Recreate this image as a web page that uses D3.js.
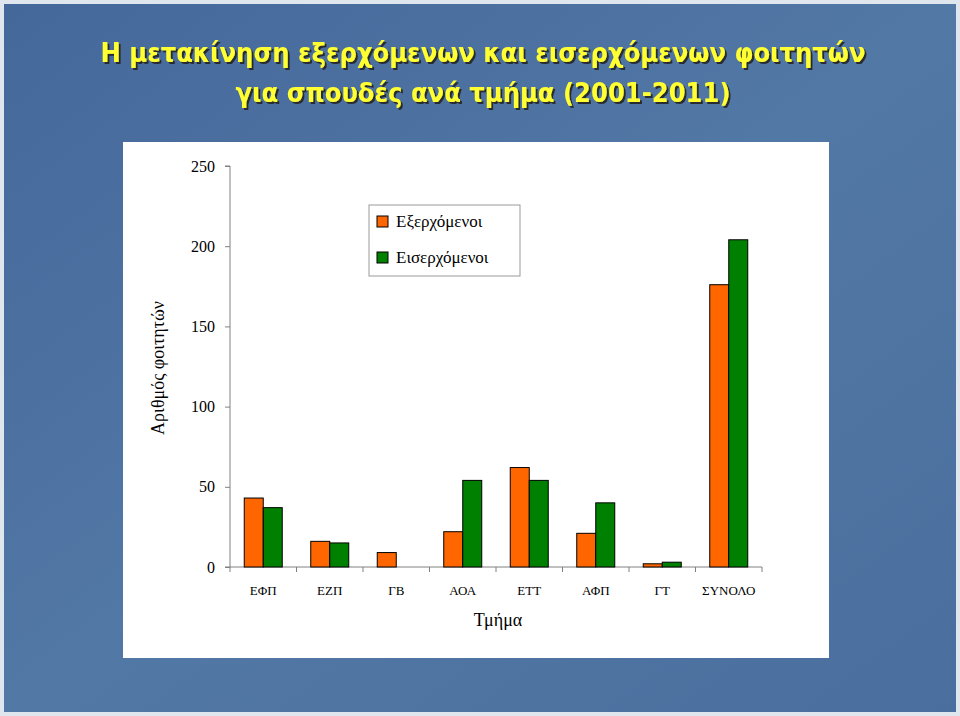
<!DOCTYPE html>
<html><head><meta charset="utf-8">
<script src="https://cdn.jsdelivr.net/npm/d3@7"></script>
<style>body{margin:0;background:#fff}</style></head>
<body><script>
const categories=["ΕΦΠ","ΕΖΠ","ΓΒ","ΑΟΑ","ΕΤΤ","ΑΦΠ","ΓΤ","ΣΥΝΟΛΟ"];
const outgoing=[43,16,9,22,62,21,2,176];
const incoming=[37,15,0,54,54,40,3,204];
const seriesNames=["Εξερχόμενοι","Εισερχόμενοι"];
const colors=["#ff6600","#008000"];
const yTicks=[0,50,100,150,200,250];

const svg=d3.select("body").append("svg").attr("width",960).attr("height",716);
const defs=svg.append("defs");
const g=defs.append("linearGradient").attr("id","bg").attr("x1",0).attr("y1",0).attr("x2",1).attr("y2",1);
g.append("stop").attr("offset",0).attr("stop-color","#44689a");
g.append("stop").attr("offset",0.5).attr("stop-color","#5278a6");
g.append("stop").attr("offset",1).attr("stop-color","#4a6f9e");
svg.append("rect").attr("width",960).attr("height",716).attr("fill","#dfe6ee");
svg.append("rect").attr("x",4).attr("y",4).attr("width",952).attr("height",708).attr("fill","url(#bg)");
const f=defs.append("filter").attr("id","sh");
f.append("feDropShadow").attr("dx",2).attr("dy",2).attr("stdDeviation",0.6).attr("flood-color","#222").attr("flood-opacity",0.9);
const title=svg.append("text").attr("text-anchor","middle").attr("font-family","'DejaVu Sans Condensed','Open Sans',sans-serif")
 .attr("font-weight","bold").attr("font-size",27).attr("fill","#ffff33").attr("filter","url(#sh)");
title.append("tspan").attr("x",483).attr("y",62).text("Η μετακίνηση εξερχόμενων και εισερχόμενων φοιτητών");
title.append("tspan").attr("x",483).attr("y",102).text("για σπουδές ανά τμήμα (2001-2011)");

svg.append("rect").attr("x",123).attr("y",142).attr("width",706).attr("height",516).attr("fill","#fff");
const x=d3.scaleBand().domain(categories).range([230,762]);
const y=d3.scaleLinear().domain([0,250]).range([567,166]);
const font="'Liberation Serif','Times New Roman',serif";
const ax=svg.append("g").attr("transform","translate(230,0)").call(d3.axisLeft(y).tickValues(yTicks).tickSize(5).tickPadding(10));
ax.selectAll("text").attr("font-family",font).attr("font-size",16).attr("fill","#000");
ax.selectAll("line,path").attr("stroke","#808080");
ax.select(".domain").attr("d","M-5,166H0V567H-5");
const bx=svg.append("g").attr("transform","translate(0,567)").call(d3.axisBottom(x).tickSize(5).tickPadding(14));
bx.selectAll("text").attr("font-family",font).attr("font-size",13).attr("fill","#000");
bx.selectAll("line,path").attr("stroke","#808080");
bx.select(".domain").attr("d","M230,0V0H762");
bx.selectAll(".tick line").remove();
categories.forEach((c,i)=>{ if(i<categories.length) bx.append("line").attr("x1",x(c)).attr("x2",x(c)).attr("y1",0).attr("y2",5).attr("stroke","#808080");});
bx.append("line").attr("x1",762).attr("x2",762).attr("y1",0).attr("y2",5).attr("stroke","#808080");
const bw=19;
[outgoing,incoming].forEach((arr,s)=>{
 svg.append("g").selectAll("rect").data(arr).join("rect")
  .attr("x",(d,i)=>x(categories[i])+x.bandwidth()/2-bw+s*bw).attr("width",bw)
  .attr("y",d=>y(d)).attr("height",d=>y(0)-y(d))
  .attr("fill",colors[s]).attr("stroke","#000").attr("stroke-width",1)
  .attr("display",d=>d>0?null:"none");
});
svg.append("text").attr("x",498).attr("y",626).attr("text-anchor","middle").attr("font-family",font).attr("font-size",18).text("Τμήμα");
svg.append("text").attr("transform","translate(164,368) rotate(-90)").attr("text-anchor","middle").attr("font-family",font).attr("font-size",18).text("Αριθμός φοιτητών");
const lg=svg.append("g");
lg.append("rect").attr("x",369).attr("y",205).attr("width",151).attr("height",71).attr("fill","#fff").attr("stroke","#999");
seriesNames.forEach((n,i)=>{
 lg.append("rect").attr("x",377).attr("y",216+i*36).attr("width",11).attr("height",11).attr("fill",colors[i]).attr("stroke","#000");
 lg.append("text").attr("x",396).attr("y",227+i*36).attr("font-family",font).attr("font-size",17).text(n);
});
</script></body></html>
